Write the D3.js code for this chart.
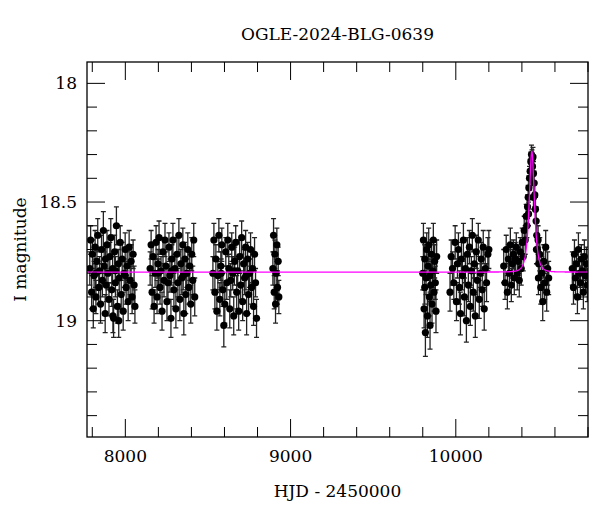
<!DOCTYPE html>
<html><head><meta charset="utf-8">
<script src="https://cdn.jsdelivr.net/npm/d3@7"></script>
<style>body{margin:0;background:#fff}</style></head>
<body><svg id="c" width="600" height="512"></svg>
<script>
const title = "OGLE-2024-BLG-0639";
const xLabel = "HJD - 2450000";
const yLabel = "I magnitude";
const xTicks = [8000, 9000, 10000];
const yTicks = [18, 18.5, 19];
// [HJD-2450000, I mag, error]
const season1 = [[7785,18.78,0.07],[7790,18.66,0.06],[7796,18.88,0.07],[7801,18.72,0.06],[7806,18.95,0.08],[7811,18.81,0.06],[7817,18.69,0.07],[7822,18.90,0.07],[7828,18.75,0.06],[7833,18.64,0.07],[7839,18.86,0.07],[7844,18.79,0.06],[7850,18.93,0.08],[7856,18.70,0.06],[7861,18.83,0.07],[7867,18.62,0.08],[7872,18.77,0.06],[7878,18.97,0.08],[7884,18.85,0.07],[7889,18.68,0.06],[7895,18.80,0.07],[7901,18.91,0.07],[7906,18.73,0.06],[7912,18.65,0.08],[7918,18.87,0.07],[7923,18.78,0.06],[7929,18.99,0.08],[7935,18.71,0.07],[7940,18.84,0.06],[7946,18.60,0.08],[7952,18.94,0.07],[7958,18.76,0.06],[7963,18.82,0.07],[7969,18.67,0.07],[7975,18.89,0.06],[7981,18.74,0.07],[7987,18.96,0.08],[7993,18.80,0.06],[7999,18.70,0.07],[8005,18.86,0.07],[8011,18.77,0.06],[8017,18.92,0.08],[8023,18.69,0.07],[8029,18.83,0.06],[8035,18.75,0.07],[8041,18.90,0.07],[8047,18.72,0.06],[8053,18.85,0.08],[8058,18.94,0.07],[7820,18.80,0.06],[7880,18.74,0.06],[7940,18.79,0.06],[8000,18.81,0.06],[7960,19.00,0.07],[7925,18.98,0.07]];
const season2 = [[8150,18.78,0.07],[8156,18.68,0.06],[8162,18.88,0.07],[8168,18.73,0.06],[8174,18.94,0.07],[8180,18.80,0.06],[8186,18.67,0.07],[8192,18.90,0.07],[8198,18.76,0.06],[8204,18.65,0.07],[8210,18.86,0.07],[8216,18.79,0.06],[8222,18.96,0.08],[8228,18.71,0.06],[8234,18.83,0.07],[8240,18.66,0.07],[8246,18.77,0.06],[8252,18.92,0.08],[8258,18.84,0.07],[8264,18.69,0.06],[8270,18.81,0.07],[8276,18.99,0.08],[8282,18.74,0.06],[8288,18.66,0.07],[8294,18.87,0.07],[8300,18.78,0.06],[8306,18.95,0.08],[8312,18.72,0.07],[8318,18.84,0.06],[8324,18.64,0.07],[8330,18.91,0.09],[8336,18.76,0.06],[8342,18.82,0.07],[8348,18.68,0.07],[8354,18.97,0.09],[8360,18.74,0.07],[8366,18.89,0.08],[8372,18.80,0.06],[8378,18.70,0.07],[8384,18.86,0.07],[8390,18.77,0.06],[8396,18.93,0.08],[8402,18.72,0.07],[8408,18.83,0.06],[8414,18.66,0.07],[8420,18.90,0.08],[8200,18.80,0.06],[8280,18.79,0.06],[8350,18.81,0.06]];
const season3 = [[8530,18.80,0.07],[8536,18.66,0.07],[8542,18.88,0.07],[8548,18.74,0.06],[8554,18.96,0.08],[8560,18.81,0.06],[8566,18.64,0.07],[8572,18.91,0.07],[8578,18.77,0.06],[8584,18.68,0.07],[8590,18.87,0.07],[8596,19.02,0.09],[8602,18.93,0.08],[8608,18.71,0.06],[8614,18.84,0.07],[8620,18.66,0.07],[8626,18.78,0.06],[8632,18.95,0.08],[8638,18.83,0.07],[8644,18.69,0.06],[8650,18.80,0.07],[8656,18.98,0.08],[8662,18.75,0.06],[8668,18.67,0.07],[8674,18.88,0.07],[8680,18.79,0.06],[8686,18.96,0.08],[8692,18.73,0.07],[8698,18.85,0.06],[8704,18.65,0.07],[8710,18.92,0.08],[8716,18.76,0.06],[8722,18.82,0.07],[8728,18.69,0.07],[8734,18.97,0.09],[8740,18.74,0.07],[8746,18.89,0.08],[8752,18.80,0.06],[8758,18.70,0.07],[8764,18.86,0.07],[8770,18.78,0.06],[8776,18.94,0.08],[8782,18.72,0.07],[8788,18.84,0.06],[8794,18.99,0.08],[8580,18.80,0.06],[8660,18.79,0.06],[8730,18.81,0.06]];
const season4 = [[8893,18.78,0.07],[8897,18.64,0.07],[8901,18.88,0.07],[8905,18.72,0.06],[8909,18.93,0.08],[8913,18.80,0.06],[8917,18.68,0.07],[8921,18.86,0.07],[8925,18.75,0.06],[8929,18.90,0.07]];
const season5 = [[9800,18.80,0.07],[9804,18.66,0.07],[9808,18.95,0.08],[9812,18.74,0.06],[9816,19.05,0.10],[9820,18.82,0.07],[9824,18.70,0.07],[9828,18.98,0.09],[9832,18.77,0.06],[9836,18.68,0.07],[9840,18.90,0.08],[9844,19.02,0.10],[9848,18.85,0.07],[9852,18.72,0.06],[9856,18.93,0.08],[9860,18.79,0.07],[9864,18.66,0.07],[9868,18.88,0.08],[9872,18.75,0.07],[9876,18.84,0.07],[9880,18.96,0.09],[9884,18.73,0.07],[9812,18.86,0.07],[9844,18.81,0.07]];
const season6 = [[9965,18.88,0.08],[9972,18.73,0.07],[9980,18.78,0.07],[9988,18.84,0.07],[9996,18.67,0.07],[10004,18.92,0.08],[10010,18.76,0.06],[10016,18.70,0.07],[10022,18.86,0.07],[10028,18.97,0.09],[10034,18.74,0.07],[10040,18.81,0.06],[10046,18.66,0.07],[10052,18.90,0.08],[10058,18.78,0.06],[10064,19.00,0.09],[10070,18.72,0.07],[10076,18.85,0.07],[10082,18.69,0.07],[10088,18.94,0.08],[10094,18.79,0.06],[10100,18.64,0.07],[10106,18.88,0.08],[10112,18.76,0.06],[10118,18.98,0.09],[10124,18.71,0.07],[10130,18.83,0.07],[10136,18.66,0.07],[10142,18.91,0.08],[10148,18.80,0.06],[10154,18.74,0.07],[10160,18.87,0.07],[10166,18.69,0.07],[10172,18.95,0.09],[10178,18.78,0.07],[10186,18.84,0.08],[10194,18.72,0.07],[10200,18.70,0.08]];
const season7 = [[10290,18.77,0.07],[10298,18.84,0.07],[10305,18.70,0.06],[10312,18.88,0.07],[10318,18.74,0.06],[10324,18.80,0.07],[10330,18.68,0.07],[10336,18.85,0.07],[10342,18.76,0.06],[10348,18.72,0.06],[10354,18.82,0.07],[10360,18.74,0.07],[10366,18.69,0.06],[10372,18.80,0.07],[10378,18.75,0.06],[10384,18.83,0.07],[10390,18.71,0.06],[10396,18.78,0.07],[10402,18.67,0.06],[10408,18.73,0.06],[10414,18.62,0.06],[10420,18.66,0.06],[10426,18.56,0.05],[10430,18.60,0.05],[10434,18.52,0.05],[10438,18.48,0.05],[10442,18.44,0.05],[10446,18.40,0.05],[10450,18.37,0.05],[10454,18.33,0.04],[10458,18.30,0.04],[10461,18.32,0.04],[10464,18.35,0.04],[10467,18.31,0.04],[10470,18.38,0.05],[10474,18.42,0.05],[10478,18.47,0.05],[10482,18.53,0.05],[10486,18.58,0.06],[10490,18.64,0.06],[10494,18.70,0.06],[10498,18.66,0.06],[10502,18.76,0.07],[10508,18.72,0.07],[10514,18.86,0.07],[10520,18.80,0.07],[10526,18.92,0.08],[10532,18.75,0.07],[10538,18.84,0.07],[10544,18.69,0.07],[10550,18.88,0.08],[10556,18.78,0.07],[10562,18.82,0.07],[10440,18.55,0.05],[10470,18.48,0.05],[10488,18.70,0.06],[10500,18.82,0.07]];
const season8 = [[10705,18.78,0.07],[10712,18.86,0.07],[10718,18.72,0.06],[10724,18.82,0.07],[10730,18.76,0.06],[10736,18.90,0.07],[10742,18.70,0.07],[10748,18.80,0.06],[10754,18.84,0.07],[10760,18.74,0.06],[10766,18.79,0.07],[10772,18.88,0.07],[10778,18.73,0.07],[10784,18.81,0.06],[10790,18.76,0.07],[10796,18.85,0.07]];
// point-lens model parameters
const modelT0 = 10460, modelTE = 22, modelU0 = 0.75, modelBase = 18.795;

const svg = d3.select("#c");
const L = 87, R = 588, T = 62, B = 437;
const x = d3.scaleLinear().domain([7768, 10800]).range([L, R]);
const y = d3.scaleLinear().domain([17.91, 19.49]).range([T, B]);
const font = "'DejaVu Serif', 'Liberation Serif', serif";

const clip = svg.append("clipPath").attr("id","cp").append("rect").attr("x",L).attr("y",T).attr("width",R-L).attr("height",B-T);
const g = svg.append("g").attr("clip-path","url(#cp)");
const all = [].concat(season1,season2,season3,season4,season5,season6,season7,season8);
g.selectAll("path.eb").data(all).enter().append("path")
  .attr("d", d => { const xx=x(d[0]), y1=y(d[1]-d[2]), y2=y(d[1]+d[2]);
    return `M${xx},${y1}V${y2}M${xx-2.5},${y1}H${xx+2.5}M${xx-2.5},${y2}H${xx+2.5}`; })
  .attr("stroke","#222").attr("stroke-width",1.3).attr("fill","none");
g.selectAll("circle").data(all).enter().append("circle")
  .attr("cx", d=>x(d[0])).attr("cy", d=>y(d[1])).attr("r",3.6).attr("fill","#000");
const mt = d3.range(7768, 10801, 2);
const mag = t => { const u = Math.sqrt(modelU0*modelU0 + ((t-modelT0)/modelTE)**2);
  const A = (u*u+2)/(u*Math.sqrt(u*u+4)); return modelBase - 2.5*Math.log10(A); };
g.append("path").datum(mt).attr("d", d3.line().x(t=>x(t)).y(t=>y(mag(t))))
  .attr("fill","none").attr("stroke","#ff00ff").attr("stroke-width",1.3);

svg.append("rect").attr("x",L).attr("y",T).attr("width",R-L).attr("height",B-T)
  .attr("fill","none").attr("stroke","#000").attr("stroke-width",1.3);
const tk = svg.append("g").attr("stroke","#000").attr("stroke-width",1);
d3.range(7800, 10801, 200).forEach(v => { const major = v%1000===0, len = major?18:10;
  tk.append("line").attr("x1",x(v)).attr("x2",x(v)).attr("y1",B).attr("y2",B-len);
  tk.append("line").attr("x1",x(v)).attr("x2",x(v)).attr("y1",T).attr("y2",T+len); });
d3.range(18, 19.45, 0.1).forEach(v => { const major = Math.abs(v*2-Math.round(v*2))<1e-6, len = major?18:10;
  tk.append("line").attr("y1",y(v)).attr("y2",y(v)).attr("x1",L).attr("x2",L+len);
  tk.append("line").attr("y1",y(v)).attr("y2",y(v)).attr("x1",R).attr("x2",R-len); });
svg.selectAll("text.xt").data(xTicks).enter().append("text").attr("x",d=>x(d)).attr("y",B+25)
  .attr("text-anchor","middle").attr("font-family",font).attr("font-size",17).text(d=>d);
svg.selectAll("text.yt").data(yTicks).enter().append("text").attr("x",L-10).attr("y",d=>y(d)+6)
  .attr("text-anchor","end").attr("font-family",font).attr("font-size",17).text(d=>d);
svg.append("text").attr("x",(L+R)/2).attr("y",40).attr("text-anchor","middle").attr("font-family",font).attr("font-size",17).text(title);
svg.append("text").attr("x",(L+R)/2).attr("y",B+60).attr("text-anchor","middle").attr("font-family",font).attr("font-size",17).text(xLabel);
svg.append("text").attr("transform",`translate(26,${(T+B)/2}) rotate(-90)`).attr("text-anchor","middle").attr("font-family",font).attr("font-size",17).text(yLabel);
</script></body></html>
